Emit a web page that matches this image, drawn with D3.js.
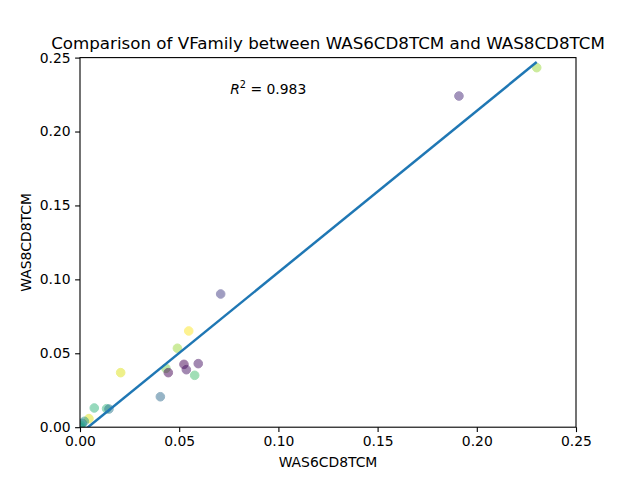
<!DOCTYPE html>
<html>
<head>
<meta charset="utf-8">
<script src="https://cdn.jsdelivr.net/npm/d3@7"></script>
<style>
  body { margin: 0; background: #fff; }
  text { font-family: "DejaVu Sans", sans-serif; }
</style>
</head>
<body>
<div id="chart"></div>
<script>
// values
let xValues = [0.191, 0.2302, 0.0709, 0.0548, 0.0491, 0.0433, 0.0445, 0.0524, 0.0536, 0.0596,
  0.0578, 0.0405, 0.0205, 0.0072, 0.0134, 0.0146, 0.0045, 0.0022, 0.0012, 0.0005, 0.0]
let yValues = [0.224, 0.2432, 0.0901, 0.0651, 0.0534, 0.0398, 0.0369, 0.0425, 0.0389, 0.0430,
  0.0351, 0.0206, 0.0369, 0.0130, 0.0125, 0.0123, 0.0058, 0.0040, 0.0026, 0.0012, 0.0]
let colorValues = [0.12, 0.85, 0.18, 1.0, 0.85, 0.8, 0.0, 0.0, 0.05, 0.05,
  0.7, 0.35, 0.95, 0.65, 0.65, 0.4, 0.95, 0.5, 0.45, 0.6, 0.55]

let fitSlope = 1.092
let fitIntercept = -0.0044
let rSquared = 0.983

let xTicks = [0, 0.05, 0.10, 0.15, 0.20, 0.25]
let yTicks = [0, 0.05, 0.10, 0.15, 0.20, 0.25]

let width = 640
let height = 480
let margin = {left: 80, right: 64, top: 57.6, bottom: 52.8}

let svg = d3.select('#chart')
  .append('svg')
    .attr('width', width)
    .attr('height', height)

let x = d3.scaleLinear().domain([0, 0.25]).range([margin.left, width - margin.right])
let y = d3.scaleLinear().domain([0, 0.25]).range([height - margin.bottom, margin.top])

svg.append('clipPath').attr('id', 'plot-clip')
  .append('rect')
    .attr('x', x(0)).attr('y', y(0.25))
    .attr('width', x(0.25) - x(0)).attr('height', y(0) - y(0.25))

let points = xValues.map((d, i) => ({x: d, y: yValues[i], c: colorValues[i]}))

let plot = svg.append('g').attr('clip-path', 'url(#plot-clip)')

plot.selectAll('circle')
  .data(points)
  .enter()
  .append('circle')
    .attr('cx', d => x(d.x))
    .attr('cy', d => y(d.y))
    .attr('r', 4.3)
    .style('fill', d => d3.interpolateViridis(d.c))
    .style('stroke', d => d3.interpolateViridis(d.c))
    .style('stroke-width', 1)
    .style('opacity', 0.5)

let xExtent = d3.extent(xValues)
let fitLine = xExtent.map(v => [v, fitSlope * v + fitIntercept])

plot.append('path')
  .datum(fitLine)
  .attr('d', d3.line().x(d => x(d[0])).y(d => y(d[1])))
  .style('fill', 'none')
  .style('stroke', '#1f77b4')
  .style('stroke-width', 2.5)

// axes
let xAxis = svg.append('g')
  .attr('transform', `translate(0,${y(0)})`)
  .call(d3.axisBottom(x).tickValues(xTicks).tickFormat(d3.format('.2f')).tickSize(4.9).tickPadding(4.5))
let yAxis = svg.append('g')
  .attr('transform', `translate(${x(0)},0)`)
  .call(d3.axisLeft(y).tickValues(yTicks).tickFormat(d3.format('.2f')).tickSize(4.9).tickPadding(4.5))

for (let ax of [xAxis, yAxis]) {
  ax.select('.domain').remove()
  ax.selectAll('.tick line').style('stroke', '#000').style('stroke-width', 1.1)
  ax.selectAll('.tick text').style('font-size', '13.9px').style('fill', '#000')
    .style('font-family', '"DejaVu Sans", sans-serif')
}

svg.append('rect')
  .attr('x', x(0)).attr('y', y(0.25))
  .attr('width', x(0.25) - x(0)).attr('height', y(0) - y(0.25))
  .style('fill', 'none')
  .style('stroke', '#000')
  .style('stroke-width', 1.1)

// texts
svg.append('text')
  .attr('x', (x(0) + x(0.25)) / 2)
  .attr('y', 48.5)
  .attr('text-anchor', 'middle')
  .style('font-size', '16.7px')
  .text('Comparison of VFamily between WAS6CD8TCM and WAS8CD8TCM')

svg.append('text')
  .attr('x', (x(0) + x(0.25)) / 2)
  .attr('y', 467)
  .attr('text-anchor', 'middle')
  .style('font-size', '13.9px')
  .text('WAS6CD8TCM')

svg.append('text')
  .attr('transform', `translate(31,${(y(0) + y(0.25)) / 2}) rotate(-90)`)
  .attr('text-anchor', 'middle')
  .style('font-size', '13.9px')
  .text('WAS8CD8TCM')

let r2 = svg.append('text')
  .attr('x', x(0.0757))
  .attr('y', y(0.2255))
  .style('font-size', '13.9px')
r2.append('tspan').style('font-style', 'italic').text('R')
r2.append('tspan').attr('dy', -5.5).style('font-size', '9.7px').text('2')
r2.append('tspan').attr('dy', 5.5).text(' = ' + rSquared)
</script>
</body>
</html>
